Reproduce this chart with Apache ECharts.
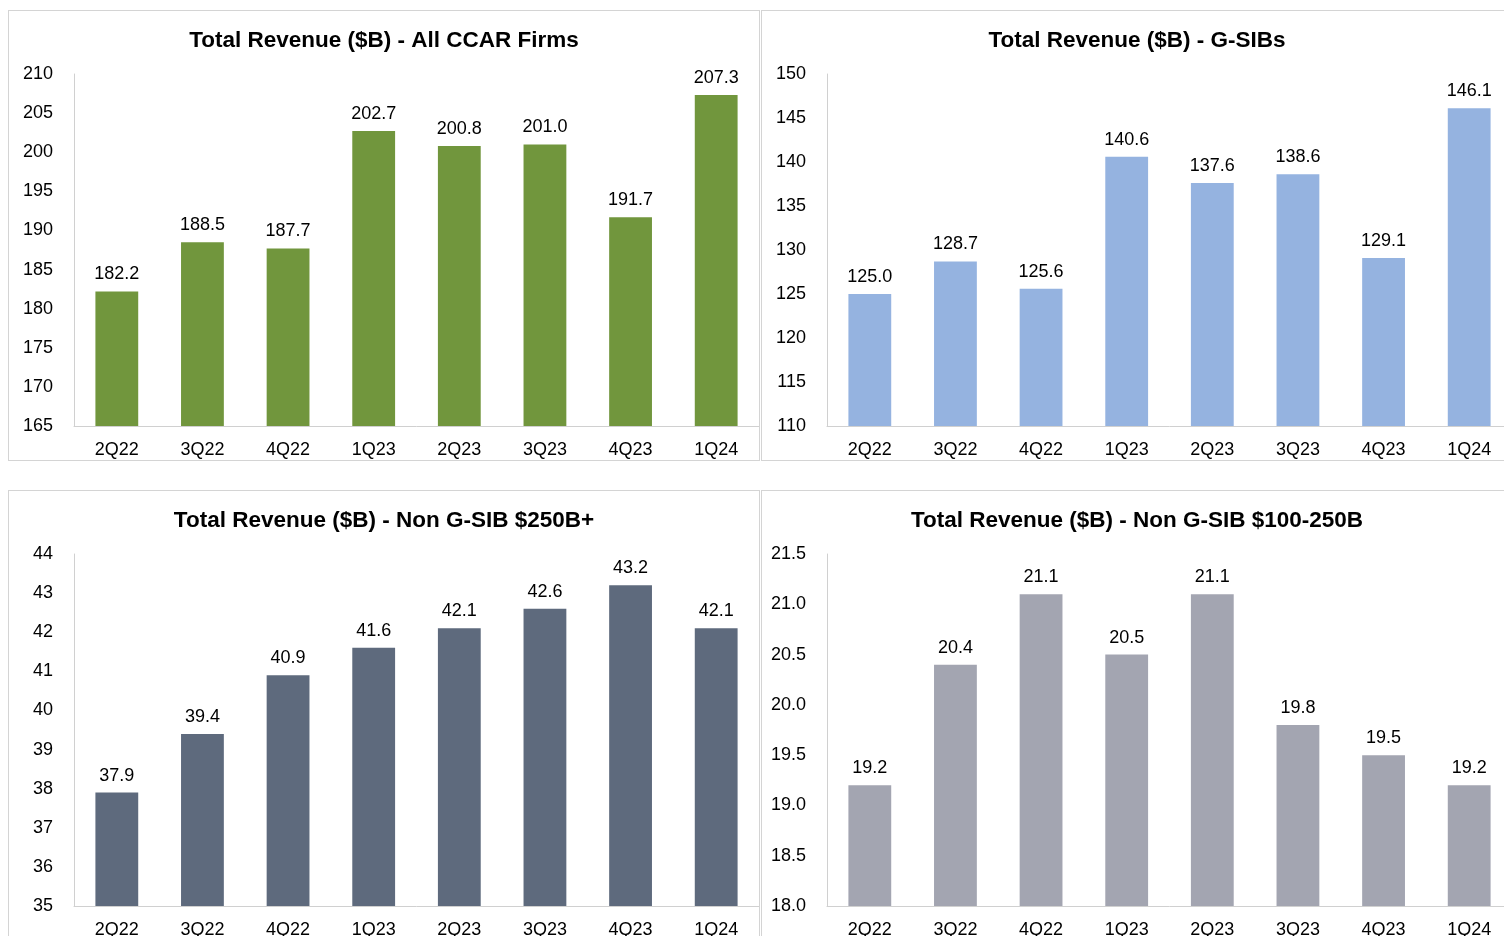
<!DOCTYPE html>
<html>
<head>
<meta charset="utf-8">
<script src="https://cdn.jsdelivr.net/npm/echarts@6/dist/echarts.min.js"></script>
<style>
  body { margin: 0; background: #fff; overflow: hidden; width: 1504px; height: 936px; position: relative; }
  .panel { position: absolute; width: 752px; height: 451px; border: 1px solid #d4d4d4; box-sizing: border-box; }
</style>
</head>
<body>
<div class="panel" id="c1" style="left:8px;top:10px"></div>
<div class="panel" id="c2" style="left:761px;top:10px"></div>
<div class="panel" id="c3" style="left:8px;top:490px"></div>
<div class="panel" id="c4" style="left:761px;top:490px"></div>
<script>
const quarters = ['2Q22', '3Q22', '4Q22', '1Q23', '2Q23', '3Q23', '4Q23', '1Q24']
const allCcar = [182.2, 188.5, 187.7, 202.7, 200.8, 201.0, 191.7, 207.3]
const gSibs = [125.0, 128.7, 125.6, 140.6, 137.6, 138.6, 129.1, 146.1]
const nonGsib250 = [37.9, 39.4, 40.9, 41.6, 42.1, 42.6, 43.2, 42.1]
const nonGsib100 = [19.2, 20.4, 21.1, 20.5, 21.1, 19.8, 19.5, 19.2]

const font = 'Liberation Sans, Arial, sans-serif'

function makeOption(title, data, color, min, max, interval, decimals) {
  return {
    animation: false,
    title: {
      text: title,
      left: 'center',
      top: 13,
      textStyle: { fontFamily: font, fontSize: 22.5, fontWeight: 'bold', color: '#000' }
    },
    grid: { left: 65, right: 0, top: 63, bottom: 34 },
    xAxis: {
      type: 'category',
      data: quarters,
      axisLine: { lineStyle: { color: '#d0d0d0' } },
      axisTick: { show: false },
      axisLabel: { fontFamily: font, fontSize: 18, color: '#000', margin: 15 }
    },
    yAxis: {
      type: 'value',
      min: min,
      max: max,
      interval: interval,
      axisLine: { show: true, lineStyle: { color: '#d0d0d0' } },
      axisTick: { show: false },
      splitLine: { show: false },
      axisLabel: {
        fontFamily: font, fontSize: 18, color: '#000', margin: 21,
        formatter: v => v.toFixed(decimals)
      }
    },
    series: [{
      type: 'bar',
      data: data,
      barWidth: '50%',
      itemStyle: { color: color },
      label: {
        show: true,
        position: 'top',
        distance: 8,
        fontFamily: font,
        fontSize: 18,
        color: '#000',
        formatter: p => p.value.toFixed(1)
      }
    }]
  }
}

const charts = [
  ['c1', makeOption('Total Revenue ($B) - All CCAR Firms', allCcar, '#71963d', 165, 210, 5, 0)],
  ['c2', makeOption('Total Revenue ($B) - G-SIBs', gSibs, '#95b3e0', 110, 150, 5, 0)],
  ['c3', makeOption('Total Revenue ($B) - Non G-SIB $250B+', nonGsib250, '#5e6a7d', 35, 44, 1, 0)],
  ['c4', makeOption('Total Revenue ($B) - Non G-SIB $100-250B', nonGsib100, '#a3a5b1', 18, 21.5, 0.5, 1)]
]

charts.forEach(([id, option]) => {
  const chart = echarts.init(document.getElementById(id))
  chart.setOption(option)
})
</script>
</body>
</html>
